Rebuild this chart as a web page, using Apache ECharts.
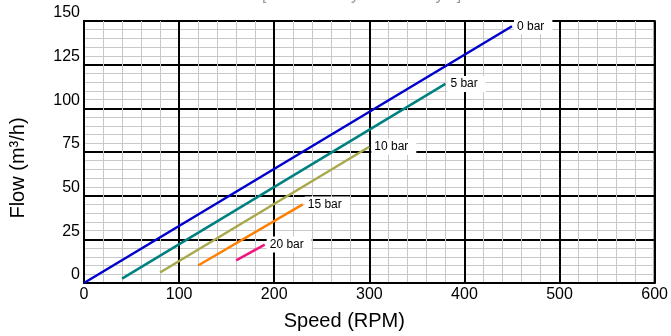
<!DOCTYPE html>
<html><head><meta charset="utf-8">
<script src="https://cdn.jsdelivr.net/npm/echarts@6/dist/echarts.min.js"></script>
<style>html,body{margin:0;padding:0;background:#fff}#c{width:671px;height:336px}</style>
</head><body><div id="c"></div>
<script>
const xTicks = [0, 100, 200, 300, 400, 500, 600];
const yTicks = [0, 25, 50, 75, 100, 125, 150];
const seriesNames = ['0 bar', '5 bar', '10 bar', '15 bar', '20 bar'];
const speed0 = [0, 450];   const flow0 = [0, 147];
const speed5 = [40, 380];  const flow5 = [2.5, 114];
const speed10 = [80, 300]; const flow10 = [6, 78];
const speed15 = [120, 230]; const flow15 = [10, 45];
const speed20 = [160, 190]; const flow20 = [13, 22];
const colors = ['#0000CC', '#008080', '#A8A84C', '#FF8000', '#F0147F'];

const sp = [speed0, speed5, speed10, speed15, speed20];
const fl = [flow0, flow5, flow10, flow15, flow20];
const font = '"Liberation Sans", Arial, sans-serif';

const chart = echarts.init(document.getElementById('c'));
chart.setOption({
  animation: false,
  backgroundColor: '#fff',
  title: {
    text: '[   Indicatively values only   ]',
    left: 257, top: -17,
    textStyle: {fontFamily: font, fontSize: 16, fontWeight: 'normal', color: '#999'}
  },
  grid: {left: 82, right: 15, top: 21, bottom: 49, show: true, borderColor: '#000', borderWidth: 2, backgroundColor: 'transparent'},
  xAxis: {
    type: 'value', min: xTicks[0], max: xTicks[xTicks.length - 1], interval: 100,
    name: 'Speed (RPM)', nameLocation: 'middle', nameGap: 28,
    nameTextStyle: {fontFamily: font, fontSize: 20, color: '#000', padding: [0, 50, 0, 0]},
    axisLine: {show: true, lineStyle: {color: '#000', width: 2}},
    axisTick: {show: false},
    axisLabel: {fontFamily: font, fontSize: 16, color: '#000', margin: 4},
    splitLine: {show: true, lineStyle: {color: '#000', width: 2}},
    minorTick: {show: false, splitNumber: 5},
    minorSplitLine: {show: true, lineStyle: {color: '#c8c8c8', width: 1}}
  },
  yAxis: {
    type: 'value', min: yTicks[0], max: yTicks[yTicks.length - 1], interval: 25,
    name: 'Flow (m³/h)', nameLocation: 'middle', nameGap: 56,
    nameTextStyle: {fontFamily: font, fontSize: 20, color: '#000', padding: [0, 32, 0, 0]},
    axisLine: {show: true, lineStyle: {color: '#000', width: 2}},
    axisTick: {show: false},
    axisLabel: {fontFamily: font, fontSize: 16, color: '#000', margin: 4, verticalAlign: 'bottom'},
    splitLine: {show: true, lineStyle: {color: '#000', width: 2}},
    minorTick: {show: false, splitNumber: 5},
    minorSplitLine: {show: true, lineStyle: {color: '#c8c8c8', width: 1}}
  },
  series: seriesNames.map((n, i) => ({
    name: n, type: 'line', showSymbol: false, silent: true,
    data: sp[i].map((x, j) => [x, fl[i][j]]),
    lineStyle: {color: colors[i], width: 2.5},
    endLabel: {
      show: true, formatter: n, fontFamily: font, fontSize: 12, color: '#000',
      backgroundColor: '#fff', padding: [2, 8, 2, 3], distance: 2
    },
    z: 3
  }))
});
</script></body></html>
